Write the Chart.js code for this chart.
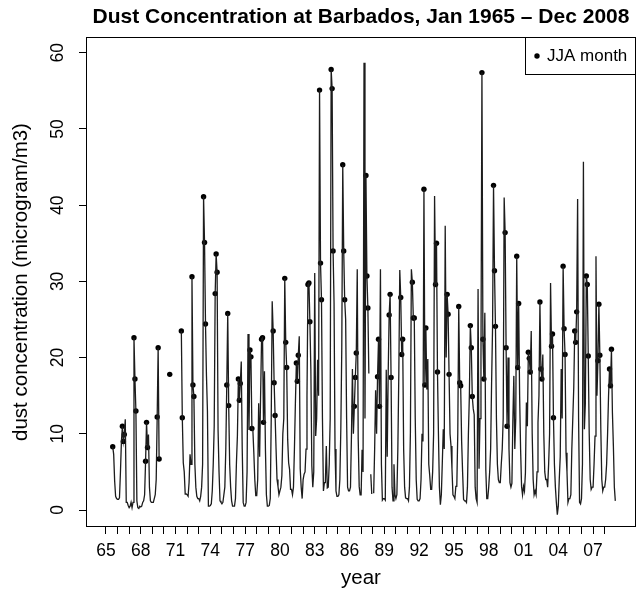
<!DOCTYPE html>
<html>
<head>
<meta charset="utf-8">
<script src="https://cdn.jsdelivr.net/npm/chart.js@4.4.1/dist/chart.umd.min.js"></script>
<style>
  html, body { margin: 0; padding: 0; background: #fff; }
  #wrap { width: 640px; height: 592px; }
</style>
</head>
<body>
<div id="wrap"><canvas id="dust" width="640" height="592"></canvas></div>
<script>
// monthly dust concentration, Jan..Dec per row, null = no sample
const yearStart = 1965
const dust1960s = [
  null, null, null, null, null, null, null, 8.3, 7.3, 3.8, 1.8, 1.5,   // 1965
  1.4, 1.4, 1.6, 5.0, 9.0, 11.0, 9.0, 9.9, 11.9, 1.0, 1.0, 0.6,         // 1966
  0.3, 0.5, 1.0, 0.3, 1.0, 22.6, 17.2, 13.0, 1.2, 0.3, 0.2, 0.5,        // 1967
  0.4, 0.5, 1.0, 1.2, 2.0, 6.4, 11.5, 8.2, 9.9, 3.0, 1.2, 1.0,          // 1968
  1.0, 1.0, 1.5, 2.0, 4.0, 12.2, 21.3, 6.7, null, null, null, null     // 1969
]
const dust1970s = [
  null, null, null, null, null, null, 17.8, null, null, null, null, null, // 1970
  null, null, null, null, null, null, 23.5, 12.1, 6.2, 5.0, 2.1, 2.1,   // 1971
  2.0, 1.8, 3.6, 7.3, 6.0, 30.6, 16.4, 14.9, 6.0, 3.0, 1.8, 1.5,        // 1972
  1.5, 1.2, 1.8, 3.0, 6.0, 41.1, 35.1, 24.4, 17.6, 13.0, 0.5, 0.5,      // 1973
  0.6, 0.8, 2.5, 6.0, 11.0, 28.4, 33.6, 31.2, 10.5, 5.0, 1.2, 1.0,      // 1974
  0.8, 1.0, 2.0, 3.0, 8.0, 16.4, 25.8, 13.7, 6.0, 3.0, 1.2, 0.5,        // 1975
  0.5, 0.5, 1.5, 6.2, 9.7, 17.2, 14.4, 16.6, 19.5, 8.0, 1.0, 0.5,       // 1976
  0.5, 1.0, 5.0, 23.1, 10.5, 21.0, 20.1, 10.7, 10.5, 7.5, 4.0, 1.9,     // 1977
  1.9, 4.0, 14.0, 7.0, 15.0, 22.4, 22.6, 11.5, 18.2, 8.0, 2.0, 0.5,     // 1978
  0.5, 0.6, 1.5, 12.0, 27.4, 23.5, 16.7, 12.4, 8.0, 4.0, 3.1, 2.0       // 1979
]
const dust1980s = [
  2.5, 3.0, 4.5, 10.0, 12.0, 30.4, 22.0, 18.7, 9.3, 6.2, 5.3, 2.7,      // 1980
  2.7, 2.0, 3.0, 8.0, 14.0, 19.3, 16.9, 20.3, 22.8, 5.4, 3.0, 1.5,      // 1981
  4.0, 4.7, 5.0, 8.0, 15.0, 29.6, 29.8, 24.7, 18.5, 5.8, 3.0, 5.0,      // 1982
  31.1, 9.7, 12.0, 19.7, 15.0, 55.1, 32.4, 27.6, 12.0, 2.5, 3.6, 3.6,   // 1983
  8.4, 2.9, 3.0, 6.0, 12.0, 57.8, 55.3, 34.0, 27.2, 8.0, 2.5, 1.8,      // 1984
  1.8, 2.0, 4.0, 10.6, 21.3, 45.3, 34.0, 27.6, 25.0, 12.0, 3.0, 2.5,    // 1985
  2.5, 3.0, 9.7, 18.5, 10.0, 13.6, 17.4, 20.6, 31.6, 9.3, 3.1, 2.0,     // 1986
  2.0, 7.9, 5.0, 58.7, 12.0, 43.9, 30.7, 26.5, 17.9, null, 4.7, 2.1,    // 1987
  null, 2.2, 8.0, 15.7, 10.0, 17.5, 22.4, 13.6, 31.6, 6.0, 1.3, 1.5,   // 1988
  1.5, 1.3, 18.4, 7.0, 17.8, 25.6, 28.3, 17.4, 3.0, 1.2, 6.0, 2.0       // 1989
]
const dust1990s = [
  1.5, 2.0, 8.0, 17.8, 31.5, 27.9, 20.4, 22.4, 8.0, 3.0, 1.6, 1.5,      // 1990
  1.5, 1.2, 3.0, 10.2, 31.6, 29.9, 25.2, 25.2, 12.0, 4.0, 1.4, 1.2,     // 1991
  1.2, 1.5, 4.0, 10.0, 9.0, 42.1, 16.4, 23.9, 15.8, 19.8, 6.0, 4.5,     // 1992
  2.7, 2.7, 5.0, 10.0, 41.2, 29.6, 35.0, 18.1, 10.0, 3.0, 0.7, 2.0,     // 1993
  6.2, 10.6, 8.0, 37.3, 20.0, 28.3, 25.7, 17.8, 10.0, 8.4, 5.4, 2.0,    // 1994
  1.8, 1.5, 3.1, 3.1, 10.0, 26.7, 16.7, 16.3, 9.0, 5.0, 1.4, 1.2,       // 1995
  1.2, 1.0, 3.0, 10.0, 15.0, 24.2, 21.3, 14.9, 13.3, 12.5, 3.0, 1.5,    // 1996
  1.0, 29.0, 5.4, 12.0, 20.0, 57.4, 22.4, 17.2, 25.9, 5.3, 1.5, 1.5,    // 1997
  3.0, 5.0, 8.0, 16.7, 24.0, 42.6, 31.4, 24.1, 12.0, 6.0, 4.0, 3.6,     // 1998
  3.6, 6.0, 8.0, 12.0, 41.0, 36.4, 21.3, 11.0, 20.0, 8.0, 3.6, 3.0      // 1999
]
const dust2000s = [
  3.5, 11.8, 17.6, 8.0, 12.0, 33.3, 18.7, 27.1, 15.0, 8.0, 3.1, 2.0,    // 2000
  3.1, 2.5, 4.9, 14.1, 11.0, 20.7, 19.9, 18.1, 23.5, 10.0, 4.0, 2.0,    // 2001
  2.5, 2.0, 5.0, 11.5, 15.0, 27.3, 18.5, 17.2, 20.4, 10.0, 5.0, 4.0,    // 2002
  4.0, 3.0, 6.0, 10.0, 29.8, 21.5, 23.1, 12.1, 6.0, 3.0, 1.0, -0.6,     // 2003
  0.5, 4.0, 7.0, 18.5, 12.0, 32.0, 23.8, 20.4, 7.5, 5.0, 1.0, 1.5,      // 2004
  1.5, 2.0, 8.0, 12.0, 16.0, 23.5, 22.0, 26.0, 40.8, 12.0, 1.0, 0.8,    // 2005
  1.5, 6.0, 45.7, 10.6, 14.0, 30.7, 29.6, 20.2, 10.0, 4.0, 2.7, 3.0,    // 2006
  3.0, 6.0, 9.7, 33.3, 15.0, 19.6, 27.0, 20.3, 10.6, 4.0, 2.5, 3.0,     // 2007
  3.0, 4.0, 6.0, 10.0, 15.0, 18.5, 16.3, 21.1, 12.8, 8.4, 3.0, 1.2      // 2008
]

const jjaMonths = [5, 6, 7]   // Jun, Jul, Aug (0-based)
const yTicks = [0, 10, 20, 30, 40, 50, 60]
const xTickYears = [1965, 1966, 1967, 1968, 1969, 1970, 1971, 1972, 1973, 1974, 1975,
  1976, 1977, 1978, 1979, 1980, 1981, 1982, 1983, 1984, 1985, 1986, 1987, 1988,
  1989, 1990, 1991, 1992, 1993, 1994, 1995, 1996, 1997, 1998, 1999, 2000, 2001,
  2002, 2003, 2004, 2005, 2006, 2007, 2008]
const xLabelYears = [1965, 1968, 1971, 1974, 1977, 1980, 1983, 1986, 1989, 1992,
  1995, 1998, 2001, 2004, 2007]

const 字体 = "'Liberation Sans', Arial, Helvetica, sans-serif"

const 全部 = [].concat(dust1960s, dust1970s, dust1980s, dust1990s, dust2000s)
const 月点 = 全部.map((v, i) => ({x: yearStart + i / 12, y: v}))
const 夏季点 = 月点.filter((p, i) => jjaMonths.includes(i % 12) && p.y !== null)

// box round the plot + legend inside top-right corner
const 边框 = {
  id: 'frameBox',
  afterDraw(chart){
    const {ctx, chartArea: a} = chart
    ctx.save()
    ctx.strokeStyle = '#000'
    ctx.lineWidth = 1
    ctx.strokeRect(a.left + 0.5, a.top + 0.5, a.right - a.left - 1, a.bottom - a.top - 1)
    // legend
    const lx = 525.5, ly = a.top + 0.5, lw = a.right - 0.5 - lx, lh = 37
    ctx.fillStyle = '#fff'
    ctx.fillRect(lx, ly, lw, lh)
    ctx.strokeRect(lx, ly, lw, lh)
    ctx.fillStyle = '#000'
    ctx.beginPath()
    ctx.arc(537, ly + lh / 2, 2.7, 0, Math.PI * 2)
    ctx.fill()
    ctx.font = '17px ' + 字体
    ctx.textBaseline = 'middle'
    ctx.textAlign = 'left'
    ctx.fillText('JJA month', 547, ly + lh / 2 + 0.5)
    ctx.restore()
  }
}

new Chart(document.getElementById('dust'), {
  type: 'line',
  data: {
    datasets: [
      {
        label: 'dust',
        data: 月点,
        borderColor: '#1c1c1c',
        borderWidth: 1.3,
        pointRadius: 0,
        tension: 0,
        spanGaps: false
      },
      {
        label: 'JJA month',
        data: 夏季点,
        showLine: false,
        pointRadius: 2.7,
        pointBackgroundColor: '#000',
        pointBorderWidth: 0
      }
    ]
  },
  options: {
    responsive: false,
    animation: false,
    devicePixelRatio: 1,
    layout: {padding: {top: 0, right: 3, bottom: 0, left: 0}},
    plugins: {
      legend: {display: false},
      tooltip: {enabled: false},
      title: {
        display: true,
        fullSize: false,
        text: 'Dust Concentration at Barbados, Jan 1965 \u2013 Dec 2008',
        color: '#000',
        font: {family: 字体, size: 21, weight: 'bold', lineHeight: 1.2},
        padding: {top: 5, bottom: 6.8}
      }
    },
    scales: {
      x: {
        type: 'linear',
        min: 1963.28,
        max: 2010.70,
        afterBuildTicks: s => { s.ticks = xTickYears.map(v => ({value: v})) },
        afterFit: s => { s.height = 65 },
        grid: {drawOnChartArea: false, drawTicks: true, tickLength: 7, color: '#000', lineWidth: 1},
        border: {display: false},
        ticks: {
          autoSkip: false,
          maxRotation: 0,
          padding: 7,
          color: '#000',
          font: {family: 字体, size: 17.5},
          callback: v => xLabelYears.includes(v) ? String(v).slice(2) : ''
        },
        title: {
          display: true,
          text: 'year',
          color: '#000',
          font: {family: 字体, size: 20.5, lineHeight: 1.2},
          padding: {top: 0, bottom: 1}
        }
      },
      y: {
        type: 'linear',
        min: -2.23,
        max: 62.07,
        afterBuildTicks: s => { s.ticks = yTicks.map(v => ({value: v})) },
        afterFit: s => { s.width = 86 },
        grid: {drawOnChartArea: false, drawTicks: true, tickLength: 7, color: '#000', lineWidth: 1},
        border: {display: false},
        ticks: {
          minRotation: 90,
          maxRotation: 90,
          crossAlign: 'center',
          padding: 11,
          color: '#000',
          font: {family: 字体, size: 17.5}
        },
        title: {
          display: true,
          text: 'dust concentration (microgram/m3)',
          color: '#000',
          font: {family: 字体, size: 20.5, lineHeight: 1.2},
          padding: {top: 9.5, bottom: 0}
        }
      }
    }
  },
  plugins: [边框]
})
</script>
</body>
</html>
